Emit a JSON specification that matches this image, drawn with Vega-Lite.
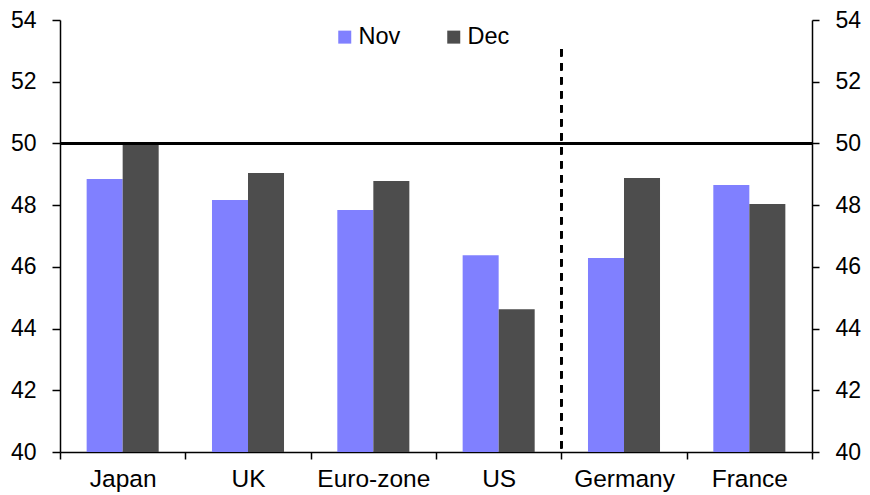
{
  "$schema": "https://vega.github.io/schema/vega-lite/v6.json",
  "width": 752,
  "height": 432,
  "autosize": "none",
  "padding": {"left": 60, "top": 20, "right": 58, "bottom": 43},
  "background": "white",
  "config": {
    "font": "Liberation Sans",
    "view": {"stroke": null},
    "axis": {"labelFont": "Liberation Sans", "labelFontSize": 23, "labelColor": "black", "domainColor": "black", "tickColor": "black", "grid": false, "domainWidth": 1.5, "tickWidth": 1.5}
  },
  "data": {"values": [
    {"country": "Japan", "month": "Nov", "value": 48.85},
    {"country": "Japan", "month": "Dec", "value": 50.0},
    {"country": "UK", "month": "Nov", "value": 48.17},
    {"country": "UK", "month": "Dec", "value": 49.04},
    {"country": "Euro-zone", "month": "Nov", "value": 47.84},
    {"country": "Euro-zone", "month": "Dec", "value": 48.78},
    {"country": "US", "month": "Nov", "value": 46.38},
    {"country": "US", "month": "Dec", "value": 44.63},
    {"country": "Germany", "month": "Nov", "value": 46.29},
    {"country": "Germany", "month": "Dec", "value": 48.88},
    {"country": "France", "month": "Nov", "value": 48.65},
    {"country": "France", "month": "Dec", "value": 48.04}
  ]},
  "layer": [
    {
      "mark": {"type": "bar"},
      "encoding": {
        "x": {"field": "country", "type": "nominal", "sort": ["Japan", "UK", "Euro-zone", "US", "Germany", "France"],
          "scale": {"paddingInner": 0, "paddingOuter": 0},
          "axis": {"title": null, "labelAngle": 0, "tickBand": "extent", "tickSize": 7, "labelPadding": 8, "labelFontSize": 24.5}},
        "xOffset": {"field": "month", "type": "nominal", "sort": ["Nov", "Dec"], "scale": {"paddingInner": 0, "paddingOuter": 0.74}},
        "y": {"field": "value", "type": "quantitative", "scale": {"domain": [40, 54], "zero": false, "nice": false},
          "axis": {"title": null, "orient": "left", "values": [40, 42, 44, 46, 48, 50, 52, 54], "tickSize": 8, "labelPadding": 16}},
        "y2": {"datum": 40},
        "color": {"field": "month", "type": "nominal", "sort": ["Nov", "Dec"],
          "scale": {"domain": ["Nov", "Dec"], "range": ["#8080FF", "#4D4D4D"]},
          "legend": {"title": null, "orient": "none", "legendX": 273, "legendY": 5, "direction": "horizontal",
            "symbolType": "square", "symbolSize": 169, "symbolStrokeWidth": 0, "labelFontSize": 23.5, "labelFont": "Liberation Sans", "labelColor": "black", "columnPadding": 41, "labelOffset": 2}}
      }
    },
    {
      "mark": {"type": "rule", "color": "black", "strokeWidth": 2},
      "encoding": {
        "y": {"datum": 50, "type": "quantitative",
          "axis": {"title": null, "orient": "right", "values": [40, 42, 44, 46, 48, 50, 52, 54], "tickSize": 7, "labelPadding": 16}}
      }
    },
    {
      "mark": {"type": "rule", "color": "black", "strokeWidth": 2, "strokeDash": [7, 7]},
      "encoding": {
        "x": {"datum": "Germany", "bandPosition": 0},
        "y": {"datum": 53.05, "type": "quantitative", "axis": null},
        "y2": {"datum": 40}
      }
    }
  ],
  "resolve": {"axis": {"y": "independent"}}
}
